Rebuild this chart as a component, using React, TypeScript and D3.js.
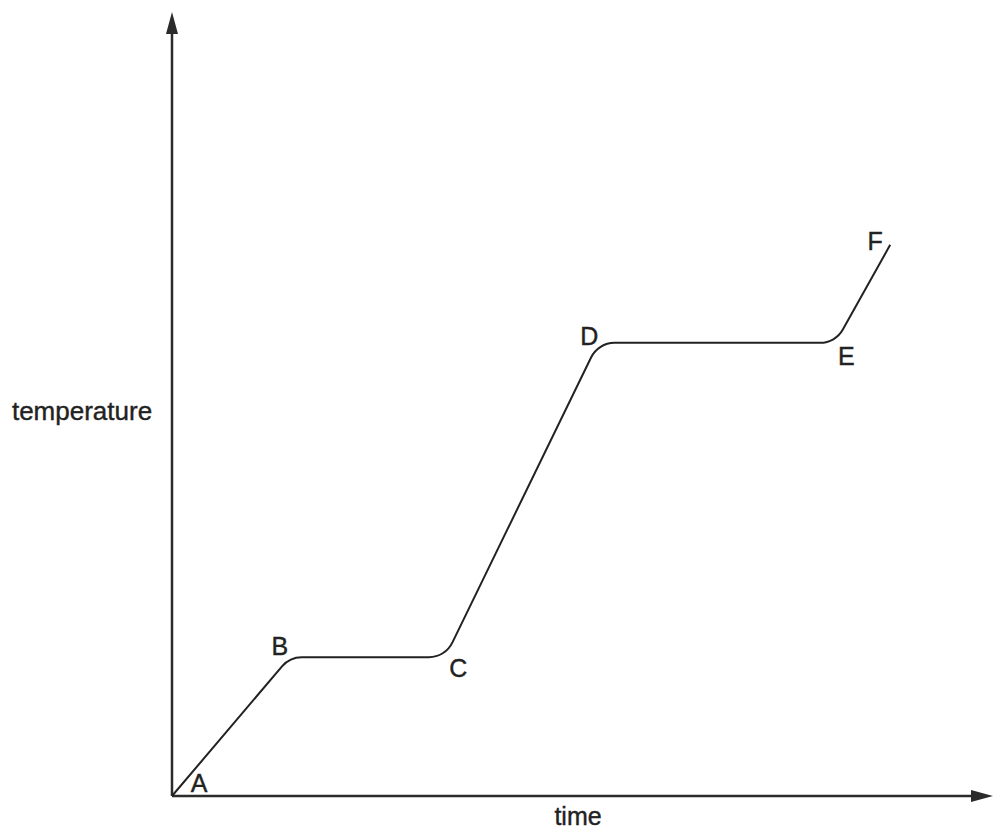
import { useEffect, useRef } from 'react';
import * as d3 from 'd3';

// heating curve key points (time, temperature), arbitrary units
const pointLabels = ['A', 'B', 'C', 'D', 'E', 'F'];
const timeValues = [0, 14.4, 33.4, 52.1, 81.1, 87.8];
const tempValues = [0, 17.7, 17.7, 57.8, 57.8, 70.3];

const xTitle = 'time';
const yTitle = 'temperature';

export default function App() {
  const svgRef = useRef<SVGSVGElement>(null);

  useEffect(() => {
    if (!svgRef.current) return;
    const svg = d3.select(svgRef.current);
    svg.selectAll('*').remove();

    const origin = { x: 172, y: 796 };
    const axisColor = '#2b2b2b';
    const font = 'Liberation Sans, Arial, sans-serif';

    const x = d3.scaleLinear().domain([0, 100]).range([origin.x, 990]);
    const y = d3.scaleLinear().domain([0, 100]).range([origin.y, 12]);

    const g = svg.append('g');

    // axes
    g.append('line')
      .attr('x1', x(0))
      .attr('y1', y(0))
      .attr('x2', x(0))
      .attr('y2', 30)
      .attr('stroke', axisColor)
      .attr('stroke-width', 2.5);
    g.append('path')
      .attr('d', `M${x(0)},12 L${x(0) - 6},34 L${x(0) + 6},34 Z`)
      .attr('fill', axisColor);

    g.append('line')
      .attr('x1', x(0))
      .attr('y1', y(0))
      .attr('x2', 975)
      .attr('y2', y(0))
      .attr('stroke', axisColor)
      .attr('stroke-width', 2.5);
    g.append('path')
      .attr('d', `M993,${y(0)} L971,${y(0) - 6} L971,${y(0) + 6} Z`)
      .attr('fill', axisColor);

    // curve with rounded corners
    const pts = timeValues.map((t, i) => [x(t), y(tempValues[i])] as [number, number]);
    const p = d3.path();
    p.moveTo(pts[0][0], pts[0][1]);
    for (let i = 1; i < pts.length - 1; i++) {
      p.arcTo(pts[i][0], pts[i][1], pts[i + 1][0], pts[i + 1][1], 26);
    }
    p.lineTo(pts[pts.length - 1][0], pts[pts.length - 1][1]);

    g.append('path')
      .attr('d', p.toString())
      .attr('fill', 'none')
      .attr('stroke', '#222')
      .attr('stroke-width', 2);

    // point labels
    const offsets: [number, number][] = [
      [27, -4],
      [-10, -2],
      [13, 20],
      [-9, 2],
      [11, 22],
      [-15, 5],
    ];
    pointLabels.forEach((lab, i) => {
      g.append('text')
        .attr('x', pts[i][0] + offsets[i][0])
        .attr('y', pts[i][1] + offsets[i][1])
        .attr('text-anchor', 'middle')
        .attr('font-family', font)
        .attr('font-size', 25)
        .attr('fill', '#222')
        .attr('stroke', '#222')
        .attr('stroke-width', 0.4)
        .text(lab);
    });

    // axis titles
    g.append('text')
      .attr('x', 82)
      .attr('y', 420)
      .attr('text-anchor', 'middle')
      .attr('font-family', font)
      .attr('font-size', 26)
      .attr('fill', '#222')
      .attr('stroke', '#222')
      .attr('stroke-width', 0.4)
      .text(yTitle);

    g.append('text')
      .attr('x', 578)
      .attr('y', 825)
      .attr('text-anchor', 'middle')
      .attr('font-family', font)
      .attr('font-size', 25)
      .attr('fill', '#222')
      .attr('stroke', '#222')
      .attr('stroke-width', 0.4)
      .text(xTitle);
  }, []);

  return (
    <svg
      ref={svgRef}
      width={995}
      height={832}
      style={{ position: 'absolute', left: 0, top: 0, background: '#fff' }}
    />
  );
}
